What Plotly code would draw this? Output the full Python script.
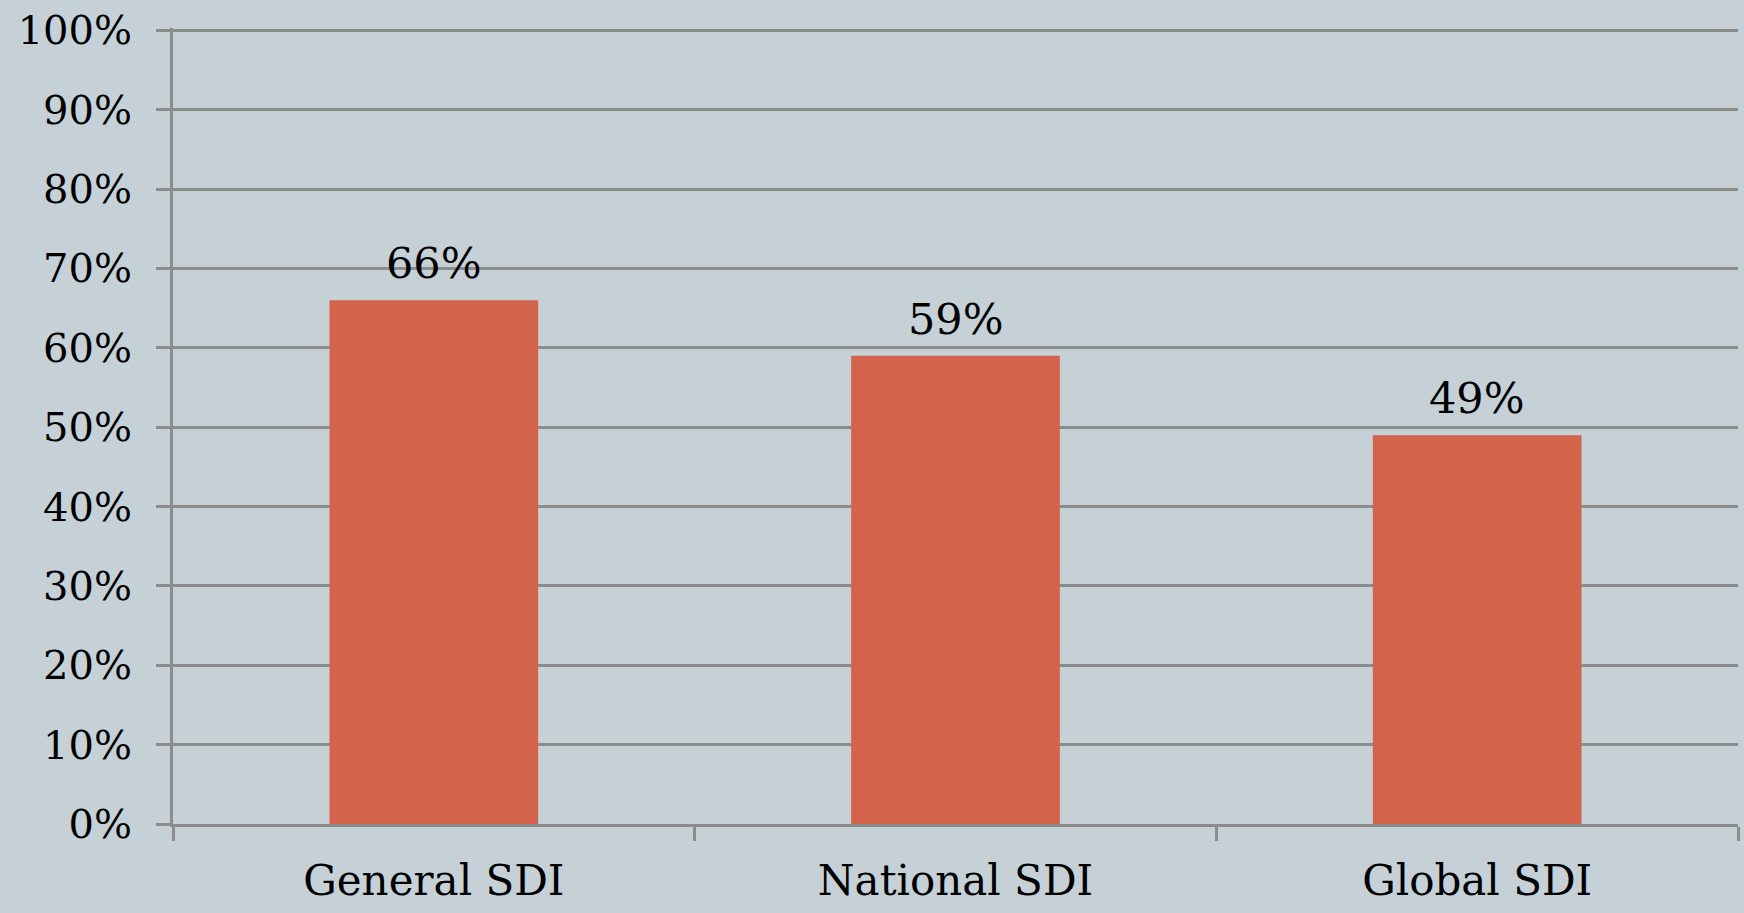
import plotly.graph_objects as go

categories = ["General SDI", "National SDI", "Global SDI"]
shares = [0.66, 0.59, 0.49]
share_labels = ["66%", "59%", "49%"]
y_ticks = [i / 10 for i in range(11)]

BG = "#C5D1D7"
BAR = "#D3634A"
GRID = "#8C8C8C"
FONT = "DejaVu Serif"

fig = go.Figure(
    go.Bar(
        x=categories,
        y=shares,
        marker=dict(color=BAR, line=dict(width=0)),
        width=0.4,
        hoverinfo="skip",
    )
)

# value labels above each bar
for cat, val, lab in zip(categories, shares, share_labels):
    fig.add_annotation(
        x=cat,
        y=val,
        text=lab,
        showarrow=False,
        yanchor="bottom",
        yshift=10,
        font=dict(family=FONT, size=43, color="black"),
    )

fig.update_layout(
    width=1744,
    height=913,
    margin=dict(l=173, r=6, t=28, b=89),
    paper_bgcolor=BG,
    plot_bgcolor=BG,
    showlegend=False,
    font=dict(family=FONT, size=40, color="black"),
)

fig.update_xaxes(
    type="category",
    tickson="boundaries",
    ticks="outside",
    ticklen=14,
    tickwidth=3,
    tickcolor=GRID,
    showline=True,
    linecolor=GRID,
    linewidth=3,
    showgrid=False,
    automargin=False,
    ticklabelstandoff=18,
    tickfont=dict(family=FONT, size=42, color="black"),
)

fig.update_yaxes(
    range=[0, 1.003],
    tickvals=y_ticks,
    tickformat=".0%",
    ticks="outside",
    ticklen=14,
    tickwidth=3,
    tickcolor=GRID,
    showline=True,
    linecolor=GRID,
    linewidth=3,
    showgrid=True,
    gridcolor=GRID,
    gridwidth=3,
    zeroline=False,
    automargin=False,
    ticklabelstandoff=16,
    tickfont=dict(family=FONT, size=40, color="black"),
)

fig.write_html("out.html")
